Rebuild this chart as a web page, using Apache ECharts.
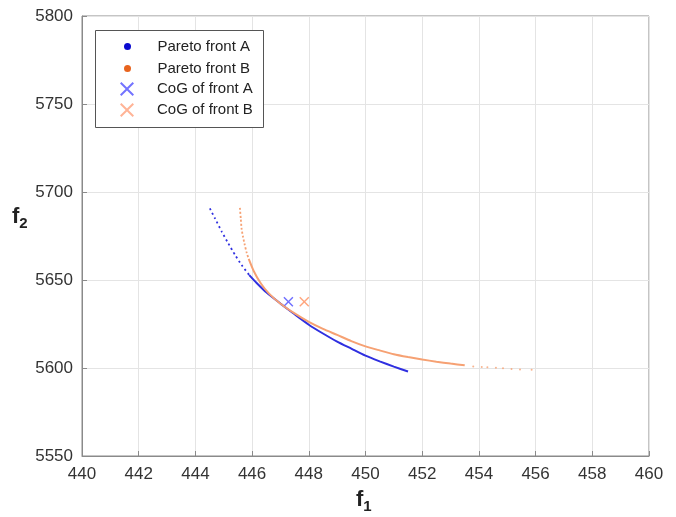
<!DOCTYPE html>
<html>
<head>
<meta charset="utf-8">
<script src="https://cdn.jsdelivr.net/npm/echarts@6/dist/echarts.min.js"></script>
<style>
  html, body { margin: 0; padding: 0; background: #fff; }
  #chart { width: 676px; height: 517px; }
</style>
</head>
<body>
<div id="chart"></div>
<script>
// axis ticks
const xTicks = { min: 440, max: 460, step: 2 };
const yTicks = { min: 5550, max: 5800, step: 50 };

// Pareto front A (f1, f2) - sparse top part and dense part
const frontATop = [[444.51, 5690.7], [444.69, 5685], [444.93, 5677.5], [445.16, 5670.8], [445.4, 5664.2], [445.63, 5658.5], [445.9, 5652.8]];
const frontA = [[445.9, 5652.8], [446.16, 5648.3], [446.5, 5643], [447.0, 5636.6], [447.5, 5630.5], [448.0, 5624.6], [448.5, 5619.6], [449.0, 5615], [449.5, 5611], [450.0, 5607], [450.5, 5603.8], [451.0, 5600.8], [451.5, 5598]];

// Pareto front B
const frontBTop = [[445.57, 5691], [445.6, 5685], [445.63, 5679], [445.68, 5674.5], [445.74, 5670], [445.8, 5666], [445.88, 5662]];
const frontB = [[445.88, 5662], [446.06, 5655], [446.31, 5648], [446.59, 5642.4], [446.98, 5636.8], [447.5, 5631], [448.0, 5626.2], [448.5, 5622.2], [449.0, 5618.8], [449.5, 5615.3], [450.0, 5612.3], [450.5, 5610], [451.0, 5607.8], [451.5, 5606.2], [452.0, 5604.8], [452.5, 5603.6], [453.0, 5602.5], [453.5, 5601.5]];
const frontBTail = [[453.8, 5600.9], [454.1, 5600.6], [454.3, 5600.4], [454.6, 5600.1], [454.85, 5599.8], [455.15, 5599.5], [455.45, 5599.2], [455.86, 5599.0]];

// centres of gravity
const cogA = [[447.28, 5637.7]];
const cogB = [[447.84, 5637.7]];

const blue = "#2f2fe0";
const orange = "#f6a173";
const crossPath = "path://M0,1 L1,0 L5,4 L9,0 L10,1 L6,5 L10,9 L9,10 L5,6 L1,10 L0,9 L4,5 Z";
const font = "Arial, 'Liberation Sans', Helvetica, sans-serif";

const chart = echarts.init(document.getElementById("chart"));

const legendText = { fontSize: 15, color: "#222", fontFamily: font, lineHeight: 16 };
const lineSmooth = { smooth: 0.2, showSymbol: false };

chart.setOption({
  animation: false,
  grid: { left: 82, right: 27, top: 16, bottom: 61, show: true, borderColor: "#8a8a8a", borderWidth: 1 },
  xAxis: {
    type: "value",
    min: xTicks.min, max: xTicks.max, interval: xTicks.step,
    axisLine: { lineStyle: { color: "#8a8a8a" } },
    axisTick: { inside: true, length: 5, lineStyle: { color: "#8a8a8a" } },
    axisLabel: { fontSize: 17, color: "#333", fontFamily: font, margin: 10 },
    splitLine: { lineStyle: { color: "#e4e4e4" } }
  },
  yAxis: {
    type: "value",
    min: yTicks.min, max: yTicks.max, interval: yTicks.step,
    axisLine: { show: true, lineStyle: { color: "#8a8a8a" } },
    axisTick: { show: true, inside: true, length: 5, lineStyle: { color: "#8a8a8a" } },
    axisLabel: { fontSize: 17, color: "#333", fontFamily: font, margin: 9, formatter: (v) => String(v) },
    splitLine: { lineStyle: { color: "#e4e4e4" } }
  },
  legend: [
    {
      orient: "vertical", left: 124, top: 38.5, padding: 0, itemGap: 6,
      itemWidth: 50, itemHeight: 7,
      textStyle: legendText,
      data: [
        { name: "Pareto front A", icon: "circle", itemStyle: { color: "#0a0ad0" } },
        { name: "Pareto front B", icon: "circle", itemStyle: { color: "#e8641e" } }
      ]
    },
    {
      orient: "vertical", left: 120, top: 81, padding: 0, itemGap: 5,
      itemWidth: 50, itemHeight: 14,
      textStyle: legendText,
      data: [
        { name: "CoG of front A", icon: crossPath, itemStyle: { color: "#5050ff" } },
        { name: "CoG of front B", icon: crossPath, itemStyle: { color: "#ffa07c" } }
      ]
    }
  ],
  graphic: [
    { type: "rect", left: 95, top: 30, z: 3, shape: { width: 168, height: 97 },
      style: { fill: "#fff", stroke: "#555", lineWidth: 1 } },
    { type: "text", left: 356, top: 489, z: 5,
      style: { text: "{a|f}{b|1}", rich: {
        a: { fontSize: 22, fontWeight: "bold", fontFamily: font, fill: "#222" },
        b: { fontSize: 15, fontWeight: "bold", fontFamily: font, fill: "#222", padding: [14, 0, 0, 0] } } } },
    { type: "text", left: 12, top: 206, z: 5,
      style: { text: "{a|f}{b|2}", rich: {
        a: { fontSize: 22, fontWeight: "bold", fontFamily: font, fill: "#222" },
        b: { fontSize: 15, fontWeight: "bold", fontFamily: font, fill: "#222", padding: [14, 0, 0, 0] } } } }
  ],
  series: [
    Object.assign({ name: "Pareto front A", type: "line", data: frontATop,
      lineStyle: { color: blue, width: 1.8, type: [2, 3] }, itemStyle: { color: blue } }, lineSmooth),
    Object.assign({ name: "Pareto front A", type: "line", data: frontA,
      lineStyle: { color: blue, width: 2 }, itemStyle: { color: blue } }, lineSmooth),
    Object.assign({ name: "Pareto front B", type: "line", data: frontBTop,
      lineStyle: { color: orange, width: 1.8, type: [2, 2] }, itemStyle: { color: orange } }, lineSmooth),
    Object.assign({ name: "Pareto front B", type: "line", data: frontB,
      lineStyle: { color: orange, width: 2 }, itemStyle: { color: orange } }, lineSmooth),
    { name: "Pareto front B", type: "scatter", data: frontBTail, symbolSize: 2,
      itemStyle: { color: orange } },
    { name: "CoG of front A", type: "scatter", data: cogA, symbol: crossPath, symbolSize: 10,
      itemStyle: { color: "#4a4aff" } },
    { name: "CoG of front B", type: "scatter", data: cogB, symbol: crossPath, symbolSize: 10,
      itemStyle: { color: "#ff8f5c" } }
  ]
});
</script>
</body>
</html>
